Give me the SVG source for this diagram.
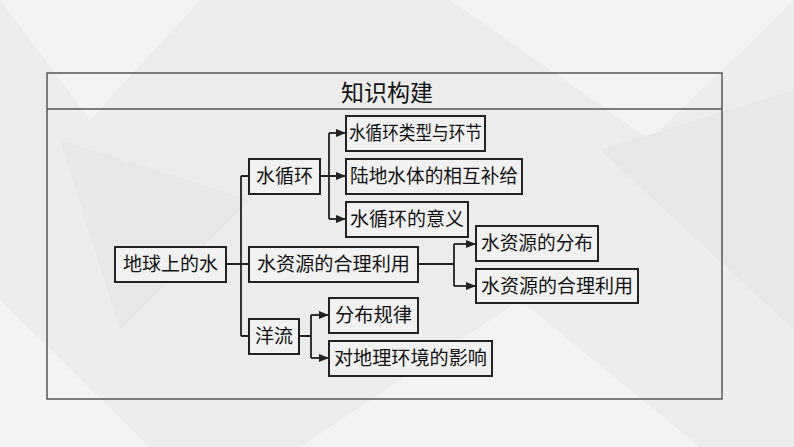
<svg xmlns="http://www.w3.org/2000/svg" width="794" height="447" viewBox="0 0 794 447">
<defs>
<marker id="ah" markerWidth="10" markerHeight="8" refX="9" refY="4" orient="auto" markerUnits="userSpaceOnUse"><path d="M0,0 L10,4 L0,8 Z" fill="#222"/></marker>
<style>
.b{fill:#f1f1f1;stroke:#222;stroke-width:2}
.t{font-family:"Noto Sans CJK SC","Liberation Sans",sans-serif;font-size:19px;fill:#111}
.c{fill:none;stroke:#222;stroke-width:1.8}
</style>
</defs>
<rect width="794" height="447" fill="#ececec"/>
<g fill="#f3f3f3">
<polygon points="0,0 200,0 90,120"/>
<polygon points="450,0 794,0 650,140"/>
<polygon points="300,447 520,300 700,447"/>
<polygon points="0,300 150,447 0,447"/>
</g>
<g fill="#e7e7e7">
<polygon points="600,150 794,90 794,330"/>
<polygon points="60,140 250,200 120,330"/>
</g>
<g id="frame">
<rect x="47" y="73" width="675" height="326" fill="none" stroke="#555" stroke-width="1.5"/>
<line x1="47" y1="109" x2="722" y2="109" stroke="#555" stroke-width="1.5"/>
<text x="387" y="101" text-anchor="middle" font-family="Noto Sans CJK SC,sans-serif" font-size="23" fill="#111">知识构建</text>
</g>
<g id="connectors">
<path class="c" d="M226,264 H249 M241,176 V336 M241,176 H249 M241,336 H249"/>
<path class="c" d="M320,176 H345 M329,133 V219"/>
<path class="c" d="M329,133 H345" marker-end="url(#ah)"/>
<path class="c" d="M329,176 H345" marker-end="url(#ah)"/>
<path class="c" d="M329,219 H345" marker-end="url(#ah)"/>
<path class="c" d="M418,264 H454 M454,244 V286"/>
<path class="c" d="M454,244 H475" marker-end="url(#ah)"/>
<path class="c" d="M454,286 H475" marker-end="url(#ah)"/>
<path class="c" d="M299,336 H311 M311,315 V358"/>
<path class="c" d="M311,315 H328" marker-end="url(#ah)"/>
<path class="c" d="M311,358 H328" marker-end="url(#ah)"/>
</g>
<g id="n1"><rect class="b" x="115" y="247" width="111" height="35"/><text class="t" x="170.5" y="271" text-anchor="middle" textLength="95" lengthAdjust="spacingAndGlyphs">地球上的水</text></g>
<g id="n2"><rect class="b" x="249" y="159" width="71" height="35"/><text class="t" x="284.5" y="183" text-anchor="middle" textLength="57" lengthAdjust="spacingAndGlyphs">水循环</text></g>
<g id="n3"><rect class="b" x="249" y="247" width="169" height="35"/><text class="t" x="333.5" y="271" text-anchor="middle" textLength="153" lengthAdjust="spacingAndGlyphs">水资源的合理利用</text></g>
<g id="n4"><rect class="b" x="249" y="319" width="50" height="35"/><text class="t" x="274" y="343" text-anchor="middle" textLength="38" lengthAdjust="spacingAndGlyphs">洋流</text></g>
<g id="n5"><rect class="b" x="346" y="116" width="139" height="35"/><text class="t" x="415.5" y="140" text-anchor="middle" textLength="133" lengthAdjust="spacingAndGlyphs">水循环类型与环节</text></g>
<g id="n6"><rect class="b" x="346" y="159" width="176" height="35"/><text class="t" x="434" y="183" text-anchor="middle" textLength="168" lengthAdjust="spacingAndGlyphs">陆地水体的相互补给</text></g>
<g id="n7"><rect class="b" x="346" y="202" width="122" height="35"/><text class="t" x="407" y="226" text-anchor="middle" textLength="114" lengthAdjust="spacingAndGlyphs">水循环的意义</text></g>
<g id="n8"><rect class="b" x="476" y="226" width="122" height="35"/><text class="t" x="537" y="250" text-anchor="middle" textLength="112" lengthAdjust="spacingAndGlyphs">水资源的分布</text></g>
<g id="n9"><rect class="b" x="476" y="269" width="162" height="34"/><text class="t" x="557" y="293" text-anchor="middle" textLength="152" lengthAdjust="spacingAndGlyphs">水资源的合理利用</text></g>
<g id="n10"><rect class="b" x="329" y="298" width="89" height="35"/><text class="t" x="373.5" y="322" text-anchor="middle" textLength="77" lengthAdjust="spacingAndGlyphs">分布规律</text></g>
<g id="n11"><rect class="b" x="329" y="341" width="163" height="35"/><text class="t" x="410.5" y="365" text-anchor="middle" textLength="153" lengthAdjust="spacingAndGlyphs">对地理环境的影响</text></g>
</svg>
